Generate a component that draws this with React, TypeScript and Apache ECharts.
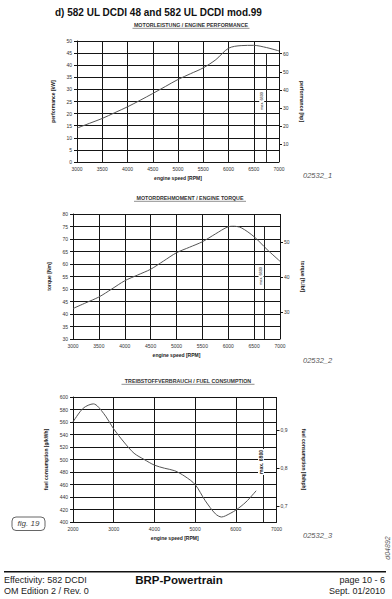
import React, { useEffect, useRef } from "react";
import * as echarts from "echarts";

// ---- data ----
const rpmPower = [3000, 3250, 3500, 3750, 4000, 4250, 4500, 4750, 5000, 5250, 5500, 5750, 6000, 6250, 6500, 6750, 7000];
const powerKw = [14.0, 16.0, 18.0, 20.4, 22.8, 25.5, 28.3, 31.2, 34.1, 36.5, 38.9, 42.3, 47.0, 48.1, 48.2, 47.3, 45.9];

const rpmTorque = [3000, 3250, 3500, 3750, 4000, 4250, 4500, 4750, 5000, 5250, 5500, 5750, 6000, 6100, 6250, 6500, 6750, 7000];
const torqueNm = [42.2, 44.5, 46.8, 50.0, 53.3, 55.6, 57.9, 61.2, 64.5, 66.7, 68.9, 72.0, 74.9, 75.1, 74.5, 70.9, 65.8, 61.1];

const rpmFuel = [2000, 2250, 2500, 2750, 3000, 3250, 3500, 3750, 4000, 4250, 4500, 4750, 5000, 5250, 5500, 5650, 5750, 6000, 6250, 6500];
const fuelGkwh = [560, 582, 589, 574, 549, 528, 510, 500, 491, 486, 482, 473, 460, 434, 413, 408, 410, 419, 432, 450];

const maxRpmLines = [6750, 6700, 6680];

const hpTicks = [10, 20, 30, 40, 50, 60];
const lbftTicks = [30, 40, 50];
const lbhphTicks = [0.7, 0.8, 0.9];

const KW_TO_HP = 1.341;
const GKWH_TO_LBHPH = 0.001644;

const FONT = "Liberation Sans";

export default function App() {
  const ref = useRef<HTMLDivElement>(null);

  useEffect(() => {
    if (!ref.current) return;
    const chart = echarts.init(ref.current, undefined, { renderer: "svg" });

    const lineColor = "#151515";
    const labelColor = "#333";

    const xAxisCommon = (gridIndex: number, min: number, max: number, interval: number) => ({
      type: "value",
      gridIndex,
      min,
      max,
      interval,
      axisLine: { show: true, lineStyle: { color: lineColor, width: 1 } },
      axisTick: { show: false },
      axisLabel: {
        fontSize: 5,
        color: labelColor,
        margin: 4,
        fontFamily: FONT,
        formatter: (v: number) => String(v),
      },
      splitLine: { show: true, lineStyle: { color: lineColor, width: 1 } },
      name: "engine speed [RPM]",
      nameLocation: "middle",
      nameGap: 13,
      nameTextStyle: { fontSize: 5, fontWeight: "bold", color: "#222", fontFamily: FONT },
    });

    const yLeft = (gridIndex: number, min: number, max: number, interval: number, name: string, nameGap: number) => ({
      type: "value",
      gridIndex,
      position: "left",
      min,
      max,
      interval,
      axisLine: { show: true, lineStyle: { color: lineColor, width: 1 } },
      axisTick: { show: true, length: 3, lineStyle: { color: lineColor } },
      axisLabel: { fontSize: 5, color: labelColor, margin: 5, fontFamily: FONT, formatter: (v: number) => String(v) },
      splitLine: { show: true, lineStyle: { color: lineColor, width: 1 } },
      name,
      nameLocation: "middle",
      nameGap,
      nameRotate: 90,
      nameTextStyle: { fontSize: 5, fontWeight: "bold", color: "#222", fontFamily: FONT },
    });

    const yRight = (
      gridIndex: number,
      min: number,
      max: number,
      ticks: number[],
      name: string,
      nameGap: number,
      fmt?: (v: number) => string
    ) => ({
      type: "value",
      gridIndex,
      position: "right",
      min,
      max,
      axisLine: { show: false },
      axisTick: { show: true, length: 3, customValues: ticks, lineStyle: { color: lineColor } },
      axisLabel: {
        fontSize: 5,
        color: labelColor,
        margin: 4,
        fontFamily: FONT,
        customValues: ticks,
        formatter: fmt ? (v: number) => fmt(v) : (v: number) => String(v),
      },
      splitLine: { show: false },
      name,
      nameLocation: "middle",
      nameGap,
      nameRotate: -90,
      nameTextStyle: { fontSize: 5, fontWeight: "bold", color: "#222", fontFamily: FONT },
    });

    const seriesLine = (
      xi: number,
      yi: number,
      xs: number[],
      ys: number[],
      maxX: number,
      lineTop: number,
      lineBottom: number
    ) => ({
      type: "line",
      xAxisIndex: xi,
      yAxisIndex: yi,
      data: xs.map((x, i) => [x, ys[i]]),
      showSymbol: false,
      smooth: 0.3,
      lineStyle: { color: "#555", width: 1 },
      itemStyle: { color: "#555" },
      markLine: {
        silent: true,
        symbol: "none",
        label: { show: false },
        lineStyle: { color: "#222", width: 1, type: "solid" },
        data: [[{ coord: [maxX, lineTop] }, { coord: [maxX, lineBottom] }]],
      },
    });

    const txt = (x: number, y: number, text: string, style: any, extra: any = {}) => ({
      type: "text",
      x,
      y,
      ...extra,
      style: {
        text,
        fontFamily: FONT,
        fill: "#222",
        textAlign: "left",
        textVerticalAlign: "middle",
        ...style,
      },
    });

    const titleWithUnderline = (cx: number, y: number, text: string, w: number) => [
      txt(cx, y, text, { fontSize: 5.3, fontWeight: "bold", textAlign: "center", fill: "#333" }),
      {
        type: "line",
        shape: { x1: cx - w / 2, y1: y + 3.3, x2: cx + w / 2, y2: y + 3.3 },
        style: { stroke: "#444", lineWidth: 0.6 },
      },
    ];

    const maxLabel = (x: number, y: number, size: number, bold: boolean) =>
      txt(
        x,
        y,
        "max. 6800",
        {
          fontSize: size,
          fontWeight: bold ? "bold" : "normal",
          textAlign: "center",
          backgroundColor: "#fff",
          padding: [0.5, 1],
          fill: "#222",
        },
        { rotation: Math.PI / 2, z: 100 }
      );

    const option: any = {
      animation: false,
      backgroundColor: "#fff",
      grid: [
        { left: 77, top: 41, width: 202, height: 121 },
        { left: 73, top: 214, width: 207, height: 125 },
        { left: 73, top: 397, width: 203.5, height: 125 },
      ],
      xAxis: [
        xAxisCommon(0, 3000, 7000, 500),
        xAxisCommon(1, 3000, 7000, 500),
        xAxisCommon(2, 2000, 7000, 1000),
      ],
      yAxis: [
        yLeft(0, 0, 50, 5, "performance [kW]", 13),
        yRight(0, 0, 50 * KW_TO_HP, hpTicks, "performance [hp]", 17),
        yLeft(1, 30, 80, 5, "torque [Nm]", 9),
        yRight(1, 22.4, 57.9, lbftTicks, "torque [ft.lbf]", 20),
        yLeft(2, 400, 600, 20, "fuel consumption [g/kWh]", 15),
        yRight(2, 400 * GKWH_TO_LBHPH, 600 * GKWH_TO_LBHPH, lbhphTicks, "fuel consumption [lb/hph]", 25, (v) =>
          v.toFixed(1).replace(".", ",")
        ),
      ],
      series: [
        seriesLine(0, 0, rpmPower, powerKw, maxRpmLines[0], 45, 0),
        seriesLine(1, 2, rpmTorque, torqueNm, maxRpmLines[1], 75, 30),
        seriesLine(2, 4, rpmFuel, fuelGkwh, maxRpmLines[2], 600, 400),
      ],
      graphic: [
        txt(55, 12.3, "d) 582 UL DCDI 48 and 582 UL DCDI mod.99", { fontSize: 10, fontWeight: "bold", fill: "#111" }),
        ...titleWithUnderline(191, 25, "MOTORLEISTUNG / ENGINE PERFORMANCE", 117),
        ...titleWithUnderline(190, 198, "MOTORDREHMOMENT / ENGINE TORQUE", 112),
        ...titleWithUnderline(188, 381, "TREIBSTOFFVERBRAUCH / FUEL CONSUMPTION", 133),
        maxLabel(261.7, 101, 3.8, false),
        maxLabel(261, 276, 3.8, false),
        maxLabel(261, 462, 5, true),
        txt(303, 175, "02532_1", { fontSize: 7.5, fontStyle: "italic", fill: "#555" }),
        txt(303, 360, "02532_2", { fontSize: 7.5, fontStyle: "italic", fill: "#555" }),
        txt(303, 535, "02532_3", { fontSize: 7.5, fontStyle: "italic", fill: "#555" }),
        {
          type: "rect",
          shape: { x: 12, y: 517, width: 33, height: 13.5, r: 4 },
          style: { fill: "#fff", stroke: "#666", lineWidth: 1 },
        },
        txt(28.5, 523.8, "fig. 19", { fontSize: 8, fontStyle: "italic", textAlign: "center", fill: "#444" }),
        txt(387, 548, "d04892", { fontSize: 7, fontStyle: "italic", textAlign: "center", fill: "#555" }, { rotation: Math.PI / 2 }),
        {
          type: "line",
          shape: { x1: 4, y1: 571.7, x2: 386, y2: 571.7 },
          style: { stroke: "#111", lineWidth: 1.5 },
        },
        txt(4, 579.5, "Effectivity: 582 DCDI", { fontSize: 9, fill: "#222" }),
        txt(4, 590.5, "OM Edition 2 / Rev. 0", { fontSize: 9, fill: "#222" }),
        txt(179, 580, "BRP-Powertrain", { fontSize: 11.5, fontWeight: "bold", textAlign: "center", fill: "#111" }),
        txt(385, 579.5, "page 10 - 6", { fontSize: 9, textAlign: "right", fill: "#222" }),
        txt(385, 590.5, "Sept. 01/2010", { fontSize: 9, textAlign: "right", fill: "#222" }),
      ],
    };

    chart.setOption(option);
    return () => chart.dispose();
  }, []);

  return (
    <div
      ref={ref}
      style={{ position: "absolute", left: 0, top: 0, width: 392, height: 599 }}
    />
  );
}
